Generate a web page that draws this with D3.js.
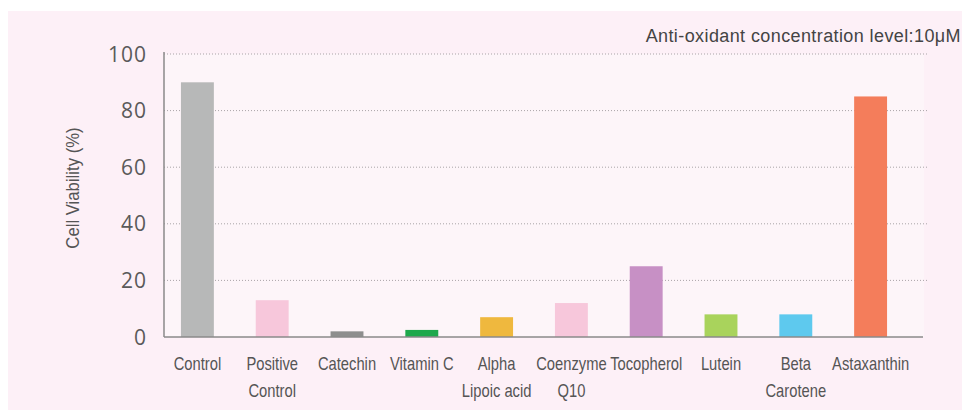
<!DOCTYPE html>
<html>
<head>
<meta charset="utf-8">
<script src="https://cdn.jsdelivr.net/npm/d3@7"></script>
<style>
  body { margin: 0; background: #fff; }
  svg { display: block; }
  .narrow { font-family: "Liberation Sans Narrow", "Arial Narrow", "Liberation Sans", sans-serif; }
</style>
</head>
<body>
<svg id="chart" width="962" height="410"></svg>
<script>
  var categories = [["Control"], ["Positive", "Control"], ["Catechin"], ["Vitamin C"], ["Alpha", "Lipoic acid"],
    ["Coenzyme", "Q10"], ["Tocopherol"], ["Lutein"], ["Beta", "Carotene"], ["Astaxanthin"]];
  var viability = [90, 13, 2, 2.5, 7, 12, 25, 8, 8, 85];
  var barColors = ["#b7b8b8", "#f7c7db", "#8e8e8e", "#1ea84c", "#efb83e", "#f7c7db", "#c790c5", "#a9d35c", "#5ec9ee", "#f47d5b"];
  var yTicks = [0, 20, 40, 60, 80, 100];

  var svg = d3.select('#chart');
  var names = categories.map(function(c) { return c.join(' '); });

  // page background
  svg.append('rect').attr('x', 8).attr('y', 11).attr('width', 954).attr('height', 399).attr('fill', '#fdf0f7');

  var x = d3.scaleBand().domain(names).range([160, 908]).paddingInner(0.56).paddingOuter(0.28);
  var y = d3.scaleLinear().domain([0, 100]).range([337, 54]);

  svg.append('rect').attr('x', 164).attr('y', y(100)).attr('width', 760).attr('height', y(0) - y(100)).attr('fill', '#fdf5f9');

  // dotted grid lines
  svg.append('g').selectAll('line').data(yTicks.slice(1)).enter().append('line')
    .attr('x1', 164).attr('x2', 927)
    .attr('y1', function(d) { return y(d); }).attr('y2', function(d) { return y(d); })
    .attr('stroke', '#a9a4a7').attr('stroke-width', 1).attr('stroke-dasharray', '1,2');

  // bars
  svg.append('g').selectAll('rect').data(viability).enter().append('rect')
    .attr('x', function(d, i) { return x(names[i]); })
    .attr('y', function(d) { return y(d); })
    .attr('width', x.bandwidth())
    .attr('height', function(d) { return y(0) - y(d); })
    .attr('fill', function(d, i) { return barColors[i]; });

  // axes lines
  svg.append('line').attr('x1', 164).attr('x2', 164).attr('y1', y(100) - 2).attr('y2', y(0))
    .attr('stroke', '#8a8a8a').attr('stroke-width', 1.5);
  svg.append('line').attr('x1', 164).attr('x2', 923).attr('y1', y(0)).attr('y2', y(0))
    .attr('stroke', '#8a8a8a').attr('stroke-width', 1.5);

  // y tick labels
  svg.append('g').selectAll('text').data(yTicks).enter().append('text')
    .attr('x', 147).attr('y', function(d) { return y(d); }).attr('dy', '0.36em')
    .attr('text-anchor', 'end')
    .attr('font-family', 'Open Sans, sans-serif')
    .attr('font-size', 21).attr('letter-spacing', 1).attr('fill', '#5a5a5a')
    .text(function(d) { return d; });

  // x labels (condensed)
  var lab = svg.append('g').attr('class', 'narrow').selectAll('text').data(categories).enter().append('text')
    .attr('text-anchor', 'middle').attr('font-size', 18).attr('fill', '#555')
    .attr('transform', function(d, i) { return 'translate(' + (x(names[i]) + x.bandwidth() / 2) + ',370) scale(0.82,1)'; });
  lab.selectAll('tspan').data(function(d) { return d; }).enter().append('tspan')
    .attr('x', 0).attr('y', function(d, i) { return i * 27; })
    .text(function(d) { return d; });

  // y axis title
  svg.append('text').attr('class', 'narrow')
    .attr('transform', 'translate(79,188) rotate(-90) scale(0.88,1)')
    .attr('text-anchor', 'middle').attr('font-size', 19).attr('fill', '#555')
    .text('Cell Viability (%)');

  // note
  svg.append('text').attr('x', 961).attr('y', 42).attr('text-anchor', 'end')
    .attr('font-family', 'Liberation Sans, Arial, sans-serif').attr('font-size', 18)
    .attr('letter-spacing', 0.4).attr('fill', '#444')
    .text('Anti-oxidant concentration level:10\u03bcM');
</script>
</body>
</html>
